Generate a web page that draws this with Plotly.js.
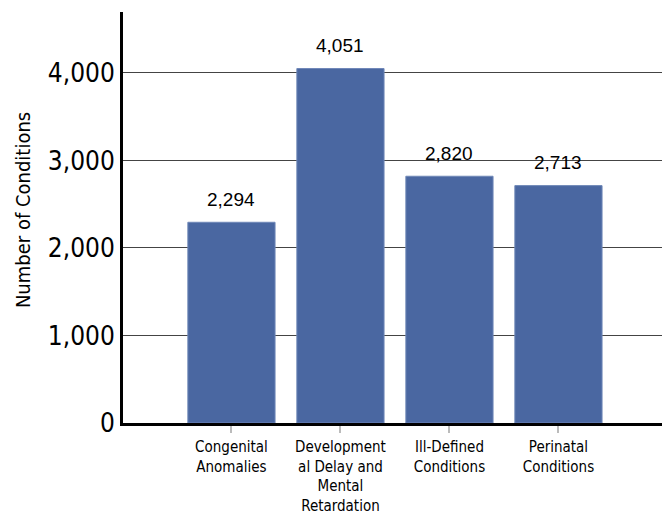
<!DOCTYPE html>
<html>
<head>
<meta charset="utf-8">
<script src="https://cdn.plot.ly/plotly-3.0.1.min.js"></script>
<style>html,body{margin:0;padding:0;background:#fff}#chart{width:662px;height:514px}</style>
</head>
<body>
<div id="chart"></div>
<script>
const categories = ["Congenital<br>Anomalies", "Development<br>al Delay and<br>Mental<br>Retardation", "Ill-Defined<br>Conditions", "Perinatal<br>Conditions"];
const counts = [2294, 4051, 2820, 2713];
const yTickVals = [0, 1000, 2000, 3000, 4000];
const yTickText = ["0", "1,000", "2,000", "3,000", "4,000"];
const yTitle = "Number of Conditions";

const fmt = v => v.toLocaleString("en-US");

const trace = {
  type: "bar",
  x: [0, 1, 2, 3],
  y: counts,
  marker: {color: "#4a67a1", line: {color: "#7088b8", width: 1}},
  hoverinfo: "none"
};

const annotations = counts.map((v, i) => ({
  x: i, y: v, xref: "x", yref: "y",
  text: fmt(v), showarrow: false,
  yanchor: "middle", yshift: 23,
  font: {family: "Liberation Sans, Arial, sans-serif", size: 19, color: "#000"}
}));
annotations.push({
  xref: "paper", yref: "paper", x: -0.1855, y: 0.518,
  xanchor: "center", yanchor: "middle",
  text: yTitle, textangle: -90, showarrow: false,
  font: {family: "DejaVu Sans Condensed, sans-serif", size: 20, color: "#000"}
});

const layout = {
  width: 662, height: 514,
  margin: {l: 123, r: 0, t: 12, b: 91},
  paper_bgcolor: "#fff", plot_bgcolor: "#fff",
  showlegend: false,
  bargap: 0.2,
  xaxis: {
    range: [-0.995, 3.95],
    tickvals: [0, 1, 2, 3],
    ticktext: categories,
    ticks: "outside", ticklen: 7, tickcolor: "#bbbbbb", tickwidth: 2,
    ticklabelstandoff: 1,
    showline: true, linecolor: "#000", linewidth: 3,
    showgrid: false, zeroline: false,
    tickfont: {family: "DejaVu Sans Condensed, sans-serif", size: 15, color: "#000"},
    fixedrange: true
  },
  yaxis: {
    range: [0, 4697],
    tickvals: yTickVals,
    ticktext: yTickText,
    ticks: "",
    showline: true, linecolor: "#000", linewidth: 3,
    showgrid: true, gridcolor: "#444", gridwidth: 1,
    zeroline: false,
    tickfont: {family: "DejaVu Sans Condensed, sans-serif", size: 26, color: "#000"},
    fixedrange: true
  },
  annotations: annotations
};

Plotly.newPlot("chart", [trace], layout, {staticPlot: true, displayModeBar: false});
</script>
</body>
</html>
